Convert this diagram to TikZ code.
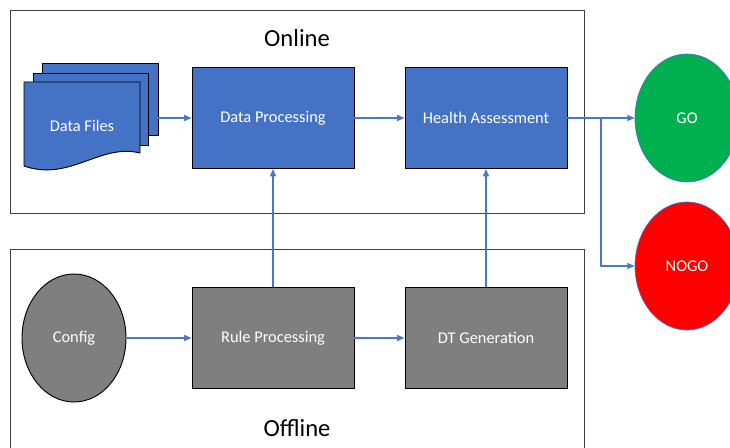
\documentclass[tikz,border=0pt]{standalone}
\usepackage{fontspec}
\setmainfont{Carlito}
\usepackage{tikz}
\usetikzlibrary{arrows.meta, shapes, positioning}
\definecolor{C_BLUE} {HTML}{4472C4}
\definecolor{C_ARR}  {HTML}{4A78C8}
\definecolor{C_GRAY} {HTML}{7F7F7F}
\definecolor{C_GO}   {HTML}{00B050}
\definecolor{C_NOGO} {HTML}{FF0000}
\definecolor{C_FRAME}{HTML}{404040}
\newcommand{\lblfont}{\fontsize{14}{16}\selectfont}
\newcommand{\hdrfont}{\fontsize{21}{24}\selectfont}
\tikzset{
  %% -- online stage box --
  flow/online/.style={
    draw=black, thick, fill=C_BLUE,
    minimum width=48.6mm, minimum height=30.3mm,
    text=white, font=\lblfont
  },
  %% -- offline stage box --
  flow/offline/.style={
    draw=black, thick, fill=C_GRAY,
    minimum width=48.6mm, minimum height=30.3mm,
    text=white, font=\lblfont
  },
  %% -- stacked data files --
  flow/doc/.style={draw=black, thick, fill=C_BLUE},
  %% -- decision outcome --
  flow/result/.style={
    ellipse, draw=C_BLUE, semithick,
    minimum width=31.2mm, minimum height=38.4mm,
    text=white, font=\lblfont
  },
  %% -- config source --
  flow/source/.style={
    ellipse, draw=black, thick, fill=C_GRAY,
    minimum width=31.2mm, minimum height=38.4mm,
    text=white, font=\lblfont
  },
  %% -- stage frame --
  flow/frame/.style={draw=C_FRAME, thick},
  flow/title/.style={font=\hdrfont},
  flow/arr/.style={-{Triangle[length=2.2mm, width=1.8mm]}, line width=1.2pt, color=C_ARR},
}
\begin{document}
\begin{tikzpicture}[x=0.3mm, y=-0.3mm]
\useasboundingbox (0,0) rectangle (730,448);

%% Frames
\draw[flow/frame] (10,10) rectangle (584,213);
\draw[flow/frame] (10,249) rectangle (584,470);
\node[flow/title] (online)  at (297,38)  {Online};
\node[flow/title] (offline) at (297,428) {Offline};

%% Data files (stack)
\draw[flow/doc] (42,63) rectangle (158,135);
\draw[flow/doc] (33,73) rectangle (148,145);
\draw[flow/doc] (24,82) -- (140,82) -- (140,153)
  .. controls (100,143) and (70,182) .. (24,166) -- cycle;
\node[text=white, font=\lblfont] (files) at (82,126) {Data Files};
\coordinate (files-out) at (158,118);

%% Nodes
\node[flow/online]  (dp)     at (273,118) {Data Processing};
\node[flow/online]  (ha)     at (486,118) {Health Assessment};
\node[flow/offline] (rp)     at (273,338) {Rule Processing};
\node[flow/offline] (dt)     at (486,338) {DT Generation};
\node[flow/source]  (config) at (74,338)  {Config};
\node[flow/result, fill=C_GO]   (go)   at (687,118) {GO};
\node[flow/result, fill=C_NOGO] (nogo) at (687,266) {NOGO};

%% Online flow
\draw[flow/arr] (files-out) -- (dp.west |- files-out);
\draw[flow/arr] (dp) -- (ha);
\draw[flow/arr] (ha) -- (go);
\coordinate (split) at (601,118);
\draw[flow/arr] (split) |- (nogo);

%% Offline flow
\draw[flow/arr] (config) -- (rp);
\draw[flow/arr] (rp) -- (dt);
\draw[flow/arr] (rp) -- (dp);
\draw[flow/arr] (dt) -- (ha);
\end{tikzpicture}
\end{document}
